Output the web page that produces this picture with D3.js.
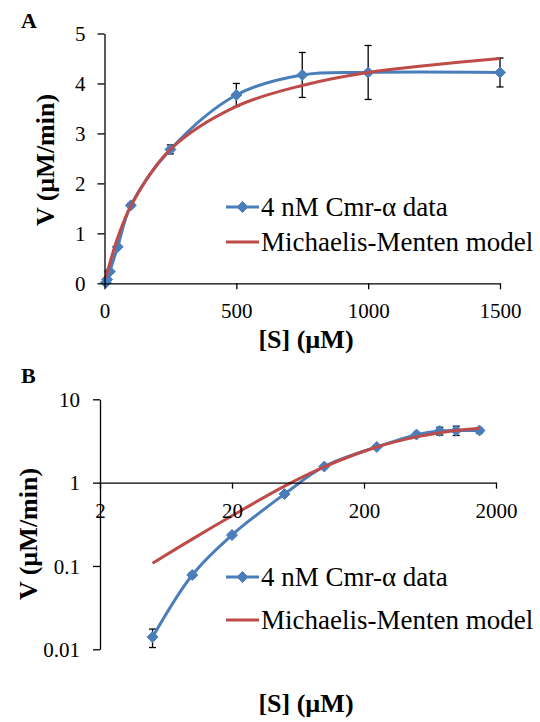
<!DOCTYPE html>
<html>
<head>
<meta charset="utf-8">
<script src="https://cdn.jsdelivr.net/npm/d3@7"></script>
</head>
<body style="margin:0;background:#fff">
<svg id="chart" width="540" height="722"></svg>
<script>
// substrate concentrations, uM
const S = [5, 10, 20, 50, 100, 250, 500, 750, 1000, 1500];
// measured rate, uM/min, with error
const V = [0.014, 0.078, 0.235, 0.73, 1.56, 2.68, 3.77, 4.17, 4.22, 4.22];
const Verr = [0.0035, 0.005, 0.01, 0.03, 0.04, 0.09, 0.23, 0.45, 0.54, 0.29];
// Michaelis-Menten model curve, read at the same S
const Vmodel = [0.108, 0.21, 0.40, 0.91, 1.55, 2.68, 3.54, 3.96, 4.22, 4.50];

const seriesNames = ["4 nM Cmr-\u03b1 data", "Michaelis-Menten model"];
const xTicksA = [0, 500, 1000, 1500];
const yTicksA = [0, 1, 2, 3, 4, 5];
const xTicksB = [2, 20, 200, 2000];
const yTicksB = [0.01, 0.1, 1, 10];

const blue = "#4a7ebb", red = "#be4b48";
const FONT = "Liberation Serif";

const svg = d3.select("#chart");

const data = S.map((s, i) => ({s: s, v: V[i], e: Verr[i], m: Vmodel[i]}));

function diamond(g, x, y) {
  g.append("path")
    .attr("d", `M${x},${y - 5.5}L${x + 5.5},${y}L${x},${y + 5.5}L${x - 5.5},${y}Z`)
    .attr("fill", blue).attr("stroke", blue).attr("stroke-width", 1);
}

function styleAxis(g) {
  g.select(".domain").attr("stroke", "#000").attr("stroke-width", 1.3);
  g.selectAll(".tick line").attr("stroke", "#000").attr("stroke-width", 1.3);
  g.selectAll(".tick text").attr("fill", "#000")
    .style("font-family", FONT).style("font-size", "21px");
}

function panel(opt) {
  const g = svg.append("g");
  const x = opt.x, y = opt.y;

  // error bars first, lines and markers on top
  const eb = g.append("g");
  data.forEach(d => {
    const cx = x(d.s);
    const lo = Math.max(d.v - d.e, opt.yMin);
    eb.append("line").attr("x1", cx).attr("x2", cx)
      .attr("y1", y(lo)).attr("y2", y(d.v + d.e))
      .attr("stroke", "#000").attr("stroke-width", 1.3);
    [lo, d.v + d.e].forEach(vv => {
      eb.append("line").attr("x1", cx - 3.5).attr("x2", cx + 3.5)
        .attr("y1", y(vv)).attr("y2", y(vv))
        .attr("stroke", "#000").attr("stroke-width", 1.3);
    });
  });

  const line = d3.line().curve(d3.curveCatmullRom.alpha(0.5));

  g.append("path")
    .attr("d", line(data.map(d => [x(d.s), y(d.v)])))
    .attr("fill", "none").attr("stroke", blue).attr("stroke-width", 3);

  const mk = g.append("g");
  data.forEach(d => diamond(mk, x(d.s), y(d.v)));

  g.append("path")
    .attr("d", line(data.map(d => [x(d.s), y(d.m)])))
    .attr("fill", "none").attr("stroke", red).attr("stroke-width", 3);

  // axes
  const ax = g.append("g").attr("transform", `translate(0,${opt.xAxisY})`)
    .call(d3.axisBottom(x).tickValues(opt.xTicks).tickSize(6).tickSizeOuter(0).tickFormat(d3.format("")));
  styleAxis(ax);
  ax.selectAll(".tick text").attr("y", 35).attr("dy", null);

  const ay = g.append("g").attr("transform", `translate(${opt.yAxisX},0)`)
    .call(d3.axisLeft(y).tickValues(opt.yTicks).tickSize(7).tickSizeOuter(0).tickFormat(opt.yFmt));
  styleAxis(ay);
  ay.selectAll(".tick text").attr("x", opt.yLabelX).attr("dy", "0.35em");

  // axis titles
  g.append("text").attr("x", opt.xTitle[0]).attr("y", opt.xTitle[1])
    .attr("text-anchor", "middle")
    .style("font-family", FONT).style("font-size", "26px").style("font-weight", "bold")
    .text("[S] (\u00b5M)");
  g.append("text")
    .attr("transform", `translate(${opt.yTitle[0]},${opt.yTitle[1]}) rotate(-90)`)
    .attr("text-anchor", "middle")
    .style("font-family", FONT).style("font-size", "26px").style("font-weight", "bold")
    .text("V (\u00b5M/min)");

  // panel letter
  g.append("text").attr("x", opt.letter[0]).attr("y", opt.letter[1])
    .style("font-family", FONT).style("font-size", "22px").style("font-weight", "bold")
    .text(opt.name);

  // legend
  const lg = g.append("g");
  opt.legendY.forEach((ly, i) => {
    lg.append("line").attr("x1", 226).attr("x2", 259).attr("y1", ly).attr("y2", ly)
      .attr("stroke", i === 0 ? blue : red).attr("stroke-width", 3);
    if (i === 0) diamond(lg, 242.5, ly);
    lg.append("text").attr("x", 261).attr("y", ly + 9)
      .style("font-family", FONT).style("font-size", "27px").text(seriesNames[i]);
  });
}

// panel A: linear axes
panel({
  name: "A",
  x: d3.scaleLinear().domain([0, 1500]).range([104.5, 500]),
  y: d3.scaleLinear().domain([0, 5]).range([283.3, 33.5]),
  yMin: 0,
  xTicks: xTicksA, yTicks: yTicksA, yFmt: d3.format(""),
  xAxisY: 283.3, yAxisX: 104.5, yLabelX: -19,
  xTitle: [306, 348], yTitle: [54, 160],
  letter: [21, 28],
  legendY: [207, 242]
});

// panel B: log-log axes, x axis crossing at V = 1
const xB = d3.scaleLog().domain([2, 2000]).range([100, 496]);
const yB = d3.scaleLog().domain([0.01, 10]).range([649.3, 399.3]);
panel({
  name: "B",
  x: xB, y: yB,
  yMin: 0.001,
  xTicks: xTicksB, yTicks: yTicksB, yFmt: d => String(d),
  xAxisY: yB(1), yAxisX: 100, yLabelX: -20,
  xTitle: [306, 712], yTitle: [37, 534],
  letter: [21, 383],
  legendY: [577, 620]
});
</script>
</body>
</html>
